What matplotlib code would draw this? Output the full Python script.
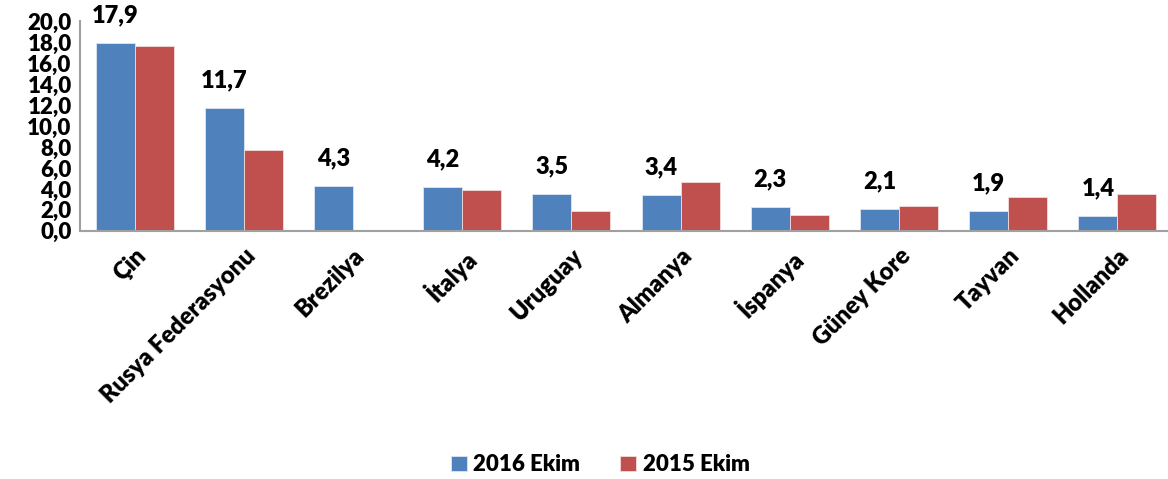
import numpy as np
import matplotlib.pyplot as plt

countries = ["Çin", "Rusya Federasyonu", "Brezilya", "İtalya", "Uruguay",
             "Almanya", "İspanya", "Güney Kore", "Tayvan", "Hollanda"]
ekim_2016 = [17.9, 11.7, 4.3, 4.2, 3.5, 3.4, 2.3, 2.1, 1.9, 1.4]
ekim_2015 = [17.6, 7.7, 0.0, 3.9, 1.9, 4.7, 1.5, 2.4, 3.2, 3.5]

plt.rcParams['font.family'] = ['Lato', 'DejaVu Sans']
plt.rcParams['font.weight'] = 'bold'

fig = plt.figure(figsize=(11.68, 4.79), dpi=100)
ax = fig.add_axes([80 / 1168, 0.518, 1092 / 1168, 0.438])

x = np.arange(len(countries))
w = 0.357
ax.bar(x - w / 2, ekim_2016, w, color="#4F81BD", edgecolor="#DCE6F2", linewidth=0.6, label="2016 Ekim")
ax.bar(x + w / 2, ekim_2015, w, color="#C0504D", edgecolor="#F2DCDB", linewidth=0.6, label="2015 Ekim")

# values shown above the 2016 bars only
for xi, v in zip(x, ekim_2016):
    ax.annotate(f"{v:.1f}".replace(".", ","), (xi - w / 2, v), xytext=(0, 12),
                textcoords="offset points", ha="center", va="bottom",
                fontsize=17, fontweight="heavy")

ax.set_xlim(-0.5, len(countries) - 0.5)
ax.set_ylim(0, 20)
ax.set_yticks(np.arange(0, 21, 2))
ax.set_yticklabels([f"{t:.1f}".replace(".", ",") for t in np.arange(0, 21, 2)],
                   fontsize=16, fontweight="heavy")
ax.set_xticks(x)
ax.set_xticklabels(countries, rotation=45, ha="right", rotation_mode="anchor",
                   fontsize=17, fontweight="heavy")
ax.tick_params(length=0)
ax.tick_params(axis="y", pad=6)
ax.tick_params(axis="x", pad=10)

for s in ["top", "right"]:
    ax.spines[s].set_visible(False)
for s in ["left", "bottom"]:
    ax.spines[s].set_color("#A0A0A0")
    ax.spines[s].set_linewidth(1.5)

fig.legend(loc="center", bbox_to_anchor=(0.514, 0.03), ncol=2, frameon=False,
           prop={"size": 16, "weight": "heavy"}, handlelength=0.7, handleheight=0.7,
           handletextpad=0.3, columnspacing=1.8)

fig.savefig("out.png", dpi=100)
